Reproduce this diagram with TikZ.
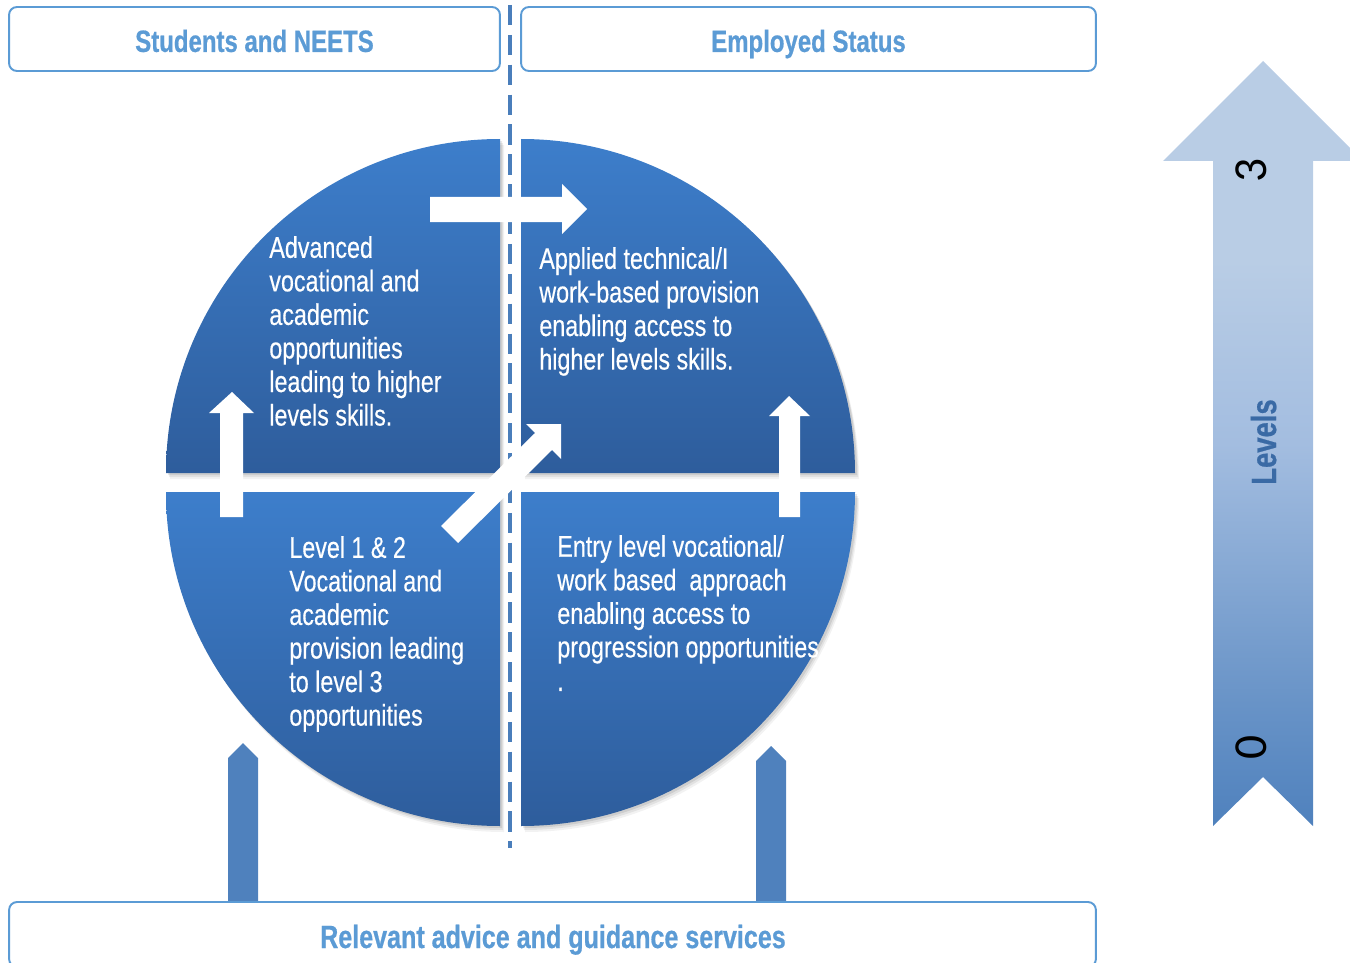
\documentclass[tikz,border=0pt]{standalone}
\usepackage{fontspec}
\newfontfamily\cond{Liberation Sans}[FakeStretch=0.78, BoldFont={Liberation Sans Bold}, BoldFeatures={FakeStretch=0.78, FakeBold=0.6}]
\newfontfamily\condq{Liberation Sans}[FakeStretch=0.78, FakeBold=0.4]
\newfontfamily\digitfont{Carlito}
\definecolor{hdr}{HTML}{5B9BD5}
\definecolor{dashblue}{HTML}{4A7EBB}
\definecolor{arrowblue}{HTML}{4F81BD}
\definecolor{qtop}{HTML}{3D7ECB}
\definecolor{qbot}{HTML}{2E5D9C}
\definecolor{lvtop}{HTML}{B9CDE5}
\definecolor{lvmid}{HTML}{A3BDE0}
\definecolor{lvlow}{HTML}{6893C7}
\definecolor{lvbot}{HTML}{4F81BD}
\definecolor{lvtext}{HTML}{3A6AA5}
\pgfdeclareverticalshading{levelsh}{100bp}{color(0bp)=(lvbot); color(25bp)=(lvbot); color(33bp)=(lvlow); color(50bp)=(lvmid); color(62bp)=(lvtop); color(100bp)=(lvtop)}
\begin{document}
\begin{tikzpicture}[x=0.02cm,y=-0.02cm,
  hdrbox/.style={draw=hdr, line width=1.1pt, rounded corners=4.5pt, fill=white, inner sep=0pt, text=hdr, text height=16pt, text depth=1.3pt, font={\cond\bfseries\fontsize{17.5pt}{20pt}\selectfont}},
  quadtext/.style={text=white, align=left, anchor=west, inner sep=0pt, font={\condq\fontsize{17pt}{19.1pt}\selectfont}},
  quad/.style={top color=qtop, bottom color=qbot, draw=none},
  whitearrow/.style={fill=white, draw=none},
  bluearrow/.style={fill=arrowblue, draw=none},
  dashline/.style={draw=dashblue, line width=2.3pt, dash pattern=on 11.5pt off 5.5pt},
  digit/.style={rotate=90, inner sep=0pt, text=black, font={\digitfont\fontsize{27pt}{30pt}\selectfont}}
]
\useasboundingbox (0,0) rectangle (1350,963);

% header boxes
\node[hdrbox, minimum width=9.82cm, minimum height=1.28cm] (students) at (254.5,39) {Students and NEETS};
\node[hdrbox, minimum width=11.5cm, minimum height=1.28cm] (employed) at (808.5,39) {Employed Status};

% soft shadows of the quadrants
\foreach \dx/\dy/\op in {4/6/0.05, 3/4/0.07, 2/2/0.09}{
  \fill[black, opacity=\op, shift={(\dx,\dy)}] (166,473) arc[start angle=180, end angle=270, radius=334] -- (500,473) -- cycle;
  \fill[black, opacity=\op, shift={(\dx,\dy)}] (521,139) arc[start angle=270, end angle=360, radius=334] -- (521,473) -- cycle;
  \fill[black, opacity=\op, shift={(\dx,\dy)}] (166,492) arc[start angle=180, end angle=90, radius=334] -- (500,492) -- cycle;
  \fill[black, opacity=\op, shift={(\dx,\dy)}] (855,492) arc[start angle=0, end angle=90, radius=334] -- (521,492) -- cycle;
}
% quadrants
\path[quad] (166,473) arc[start angle=180, end angle=270, radius=334] -- (500,473) -- cycle;
\path[quad] (521,139) arc[start angle=270, end angle=360, radius=334] -- (521,473) -- cycle;
\path[quad] (166,492) arc[start angle=180, end angle=90, radius=334] -- (500,492) -- cycle;
\path[quad] (855,492) arc[start angle=0, end angle=90, radius=334] -- (521,492) -- cycle;

% dashed divider
\coordinate (dtop) at (510,5);
\coordinate (dbot) at (510,848);
\draw[dashline] (dtop) -- (dbot);

% white arrows
\fill[whitearrow] (430,197) -- (562,197) -- (562,184) -- (587,209) -- (562,234) -- (562,222) -- (430,222) -- cycle;
\fill[whitearrow] (220,517) -- (220,413) -- (209,413) -- (232,392) -- (254,413) -- (243,413) -- (243,517) -- cycle;
\fill[whitearrow] (779,517) -- (779,416) -- (769,416) -- (789,396) -- (810,416) -- (800,416) -- (800,517) -- cycle;
\fill[whitearrow] (441,526) -- (535,433) -- (526,424) -- (561,424) -- (561,459) -- (552,450) -- (458,543) -- cycle;

% quadrant texts
\node[quadtext] (tl) at (269,331) {Advanced\\vocational and\\academic\\opportunities\\leading to higher\\levels skills.};
\node[quadtext] (tr) at (539,311.5) {Applied technical/I\\work-based provision\\enabling access to\\higher levels skills.};
\node[quadtext] (bl) at (289,634) {Level 1 \& 2\\Vocational and\\academic\\provision leading\\to level 3\\opportunities};
\node[quadtext] (br) at (557,613) {Entry level vocational/\\work based\ \ approach\\enabling access to\\progression opportunities\\.};

% blue arrows from the bottom box
\fill[bluearrow] (228,902) -- (228,758) -- (243,743) -- (258,758) -- (258,902) -- cycle;
\fill[bluearrow] (756,903) -- (756,761) -- (771,746) -- (786,761) -- (786,903) -- cycle;

% bottom box
\node[hdrbox, minimum width=21.74cm, minimum height=1.3cm] (advice) at (552.5,934.5) {};
\node[text=hdr, inner sep=0pt, anchor=base, font={\cond\bfseries\fontsize{18.3pt}{21pt}\selectfont}] (advtext) at (553,948) {Relevant advice and guidance services};

% levels arrow
\path[shading=levelsh] (1263,61) -- (1363,161) -- (1313,161) -- (1313,826) -- (1263,777) -- (1213,826) -- (1213,161) -- (1163,161) -- cycle;
\node[rotate=90, inner sep=0pt, text=lvtext, font={\cond\bfseries\fontsize{20pt}{22pt}\selectfont}] (levels) at (1263.5,442) {Levels};
\node[digit] (three) at (1251,170) {3};
\node[digit] (zero) at (1251,747) {0};
\end{tikzpicture}
\end{document}
